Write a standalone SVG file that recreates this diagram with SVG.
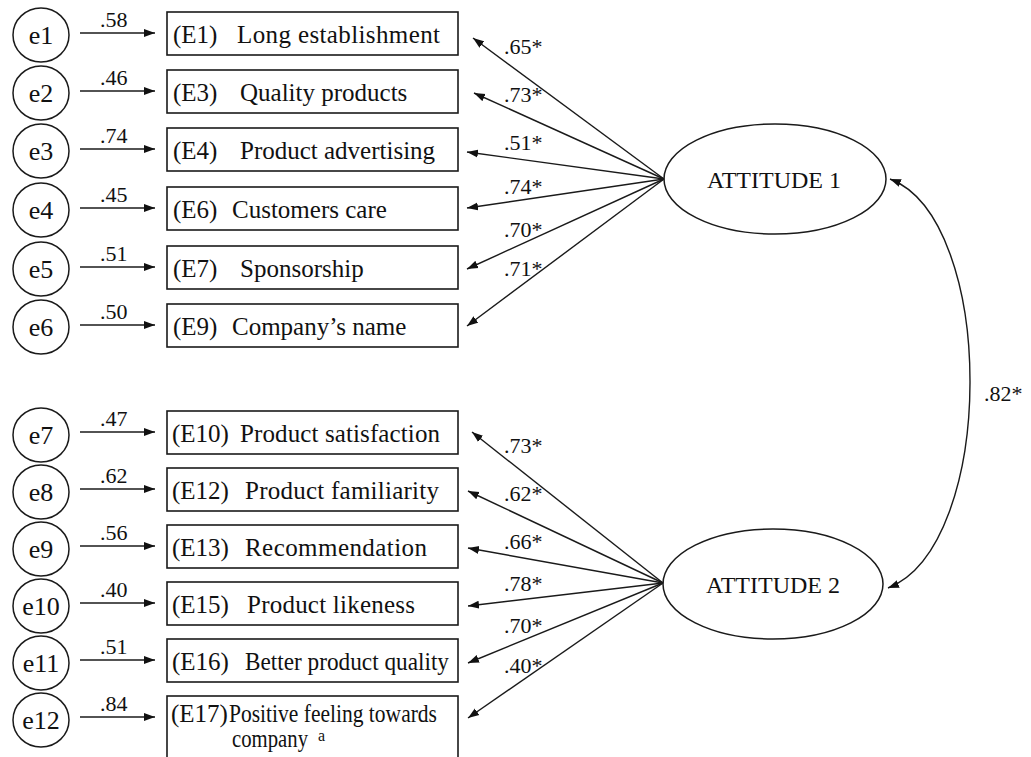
<svg xmlns="http://www.w3.org/2000/svg" width="1031" height="757" viewBox="0 0 1031 757">
  <style>
    .node { fill: #fff; stroke: #1a1a1a; stroke-width: 1.6; }
    .lat { fill: #fff; stroke: #1a1a1a; stroke-width: 1.5; }
    .txt { font-family: "Liberation Serif", "Times New Roman", serif; fill: #111; }
    .box { font-size: 25px; }
    .err { font-size: 26px; text-anchor: middle; }
    .val { font-size: 22px; }
    .latt { font-size: 24px; text-anchor: middle; }
    .edge { fill: none; stroke: #1a1a1a; stroke-width: 1.4; }
  </style>
  <defs>
    <marker id="head" markerWidth="12" markerHeight="9" refX="11" refY="4.5" orient="auto-start-reverse" markerUnits="userSpaceOnUse">
      <path d="M0,0.5 L11,4.5 L0,8.5 z" fill="#111"/>
    </marker>
  </defs>
  <rect width="1031" height="757" fill="#fff"/>

  <!-- error terms -->
  <g id="e1"><ellipse class="lat" cx="41" cy="35" rx="28" ry="27"/><text class="txt err" x="41" y="44">e1</text></g>
  <g id="e2"><ellipse class="lat" cx="41" cy="93" rx="28" ry="27"/><text class="txt err" x="41" y="102">e2</text></g>
  <g id="e3"><ellipse class="lat" cx="41" cy="151" rx="28" ry="27"/><text class="txt err" x="41" y="160">e3</text></g>
  <g id="e4"><ellipse class="lat" cx="41" cy="210" rx="28" ry="27"/><text class="txt err" x="41" y="219">e4</text></g>
  <g id="e5"><ellipse class="lat" cx="41" cy="269" rx="28" ry="27"/><text class="txt err" x="41" y="278">e5</text></g>
  <g id="e6"><ellipse class="lat" cx="41" cy="327" rx="28" ry="27"/><text class="txt err" x="41" y="336">e6</text></g>
  <g id="e7"><ellipse class="lat" cx="41" cy="435" rx="28" ry="27"/><text class="txt err" x="41" y="444">e7</text></g>
  <g id="e8"><ellipse class="lat" cx="41" cy="492" rx="28" ry="27"/><text class="txt err" x="41" y="501">e8</text></g>
  <g id="e9"><ellipse class="lat" cx="41" cy="549" rx="28" ry="27"/><text class="txt err" x="41" y="558">e9</text></g>
  <g id="e10"><ellipse class="lat" cx="41" cy="606" rx="28" ry="27"/><text class="txt err" x="41" y="615">e10</text></g>
  <g id="e11"><ellipse class="lat" cx="41" cy="663" rx="28" ry="27"/><text class="txt err" x="41" y="672">e11</text></g>
  <g id="e12"><ellipse class="lat" cx="41" cy="720" rx="28" ry="27"/><text class="txt err" x="41" y="729">e12</text></g>

  <!-- observed indicators -->
  <g id="E1"><rect class="node" x="167" y="12" width="291" height="43"/><text class="txt box" x="173" y="43">(E1)</text><text class="txt box" x="237" y="43" textLength="203">Long establishment</text></g>
  <g id="E3"><rect class="node" x="167" y="70" width="291" height="43"/><text class="txt box" x="173" y="101">(E3)</text><text class="txt box" x="240" y="101">Quality products</text></g>
  <g id="E4"><rect class="node" x="167" y="128" width="291" height="43"/><text class="txt box" x="173" y="159">(E4)</text><text class="txt box" x="240" y="159">Product advertising</text></g>
  <g id="E6"><rect class="node" x="167" y="187" width="291" height="43"/><text class="txt box" x="173" y="218">(E6)</text><text class="txt box" x="232" y="218">Customers care</text></g>
  <g id="E7"><rect class="node" x="167" y="246" width="291" height="43"/><text class="txt box" x="173" y="277">(E7)</text><text class="txt box" x="240" y="277">Sponsorship</text></g>
  <g id="E9"><rect class="node" x="167" y="304" width="291" height="43"/><text class="txt box" x="173" y="335">(E9)</text><text class="txt box" x="232" y="335">Company’s name</text></g>
  <g id="E10"><rect class="node" x="167" y="411" width="291" height="43"/><text class="txt box" x="172" y="442">(E10)</text><text class="txt box" x="240" y="442" textLength="200">Product satisfaction</text></g>
  <g id="E12"><rect class="node" x="167" y="468" width="291" height="43"/><text class="txt box" x="172" y="499">(E12)</text><text class="txt box" x="245" y="499" textLength="194">Product familiarity</text></g>
  <g id="E13"><rect class="node" x="167" y="525" width="291" height="43"/><text class="txt box" x="172" y="556">(E13)</text><text class="txt box" x="245" y="556" textLength="182">Recommendation</text></g>
  <g id="E15"><rect class="node" x="167" y="582" width="291" height="43"/><text class="txt box" x="172" y="613">(E15)</text><text class="txt box" x="247" y="613" textLength="168">Product likeness</text></g>
  <g id="E16"><rect class="node" x="167" y="639" width="291" height="43"/><text class="txt box" x="172" y="670">(E16)</text><text class="txt box" x="245" y="670" textLength="204" lengthAdjust="spacingAndGlyphs">Better product quality</text></g>
  <g id="E17"><rect class="node" x="167" y="696" width="291" height="75"/>
    <text class="txt box" x="171" y="722" font-size="23">(E17)</text>
    <text class="txt box" x="229" y="722" font-size="23" textLength="208" lengthAdjust="spacingAndGlyphs">Positive feeling towards</text>
    <text class="txt box" x="232" y="747" font-size="23" textLength="76" lengthAdjust="spacingAndGlyphs">company</text>
    <text class="txt" x="318" y="741" font-size="16">a</text></g>

  <!-- latent factors -->
  <g id="attitude1"><ellipse class="lat" cx="775" cy="179" rx="111" ry="55"/><text class="txt latt" x="774" y="188">ATTITUDE 1</text></g>
  <g id="attitude2"><ellipse class="lat" cx="773" cy="584" rx="110" ry="55"/><text class="txt latt" x="773" y="593">ATTITUDE 2</text></g>

  <!-- connectors -->
  <g id="connectors">
    <g class="edge" marker-end="url(#head)">
      <line x1="80" y1="33" x2="155" y2="33"/>
      <line x1="80" y1="91" x2="155" y2="91"/>
      <line x1="80" y1="149" x2="155" y2="149"/>
      <line x1="80" y1="208" x2="155" y2="208"/>
      <line x1="80" y1="267" x2="155" y2="267"/>
      <line x1="80" y1="325" x2="155" y2="325"/>
      <line x1="80" y1="432" x2="155" y2="432"/>
      <line x1="80" y1="489" x2="155" y2="489"/>
      <line x1="80" y1="546" x2="155" y2="546"/>
      <line x1="80" y1="603" x2="155" y2="603"/>
      <line x1="80" y1="660" x2="155" y2="660"/>
      <line x1="80" y1="717" x2="155" y2="717"/>

      <line x1="664" y1="179" x2="473" y2="38"/>
      <line x1="664" y1="179" x2="474" y2="93"/>
      <line x1="664" y1="179" x2="467" y2="152"/>
      <line x1="664" y1="179" x2="467" y2="208"/>
      <line x1="664" y1="179" x2="467" y2="269"/>
      <line x1="664" y1="179" x2="467" y2="326"/>

      <line x1="663" y1="583" x2="472" y2="432"/>
      <line x1="663" y1="583" x2="468" y2="491"/>
      <line x1="663" y1="583" x2="468" y2="548"/>
      <line x1="663" y1="583" x2="468" y2="606"/>
      <line x1="663" y1="583" x2="468" y2="663"/>
      <line x1="663" y1="583" x2="468" y2="718"/>
    </g>
    <!-- factor correlation -->
    <path class="edge" d="M 890 179 C 997 220 997 545 888 588" marker-start="url(#head)" marker-end="url(#head)"/>

    <!-- coefficients -->
    <g class="txt val">
      <text x="100" y="27">.58</text>
      <text x="100" y="85">.46</text>
      <text x="100" y="143">.74</text>
      <text x="100" y="202">.45</text>
      <text x="100" y="261">.51</text>
      <text x="100" y="319">.50</text>
      <text x="100" y="426">.47</text>
      <text x="100" y="483">.62</text>
      <text x="100" y="540">.56</text>
      <text x="100" y="597">.40</text>
      <text x="100" y="654">.51</text>
      <text x="100" y="711">.84</text>

      <text x="504" y="54">.65*</text>
      <text x="504" y="102">.73*</text>
      <text x="504" y="150">.51*</text>
      <text x="504" y="194">.74*</text>
      <text x="504" y="237">.70*</text>
      <text x="504" y="276">.71*</text>

      <text x="504" y="453">.73*</text>
      <text x="504" y="501">.62*</text>
      <text x="504" y="549">.66*</text>
      <text x="504" y="591">.78*</text>
      <text x="504" y="633">.70*</text>
      <text x="504" y="673">.40*</text>

      <text x="984" y="401">.82*</text>
    </g>
  </g>
</svg>
